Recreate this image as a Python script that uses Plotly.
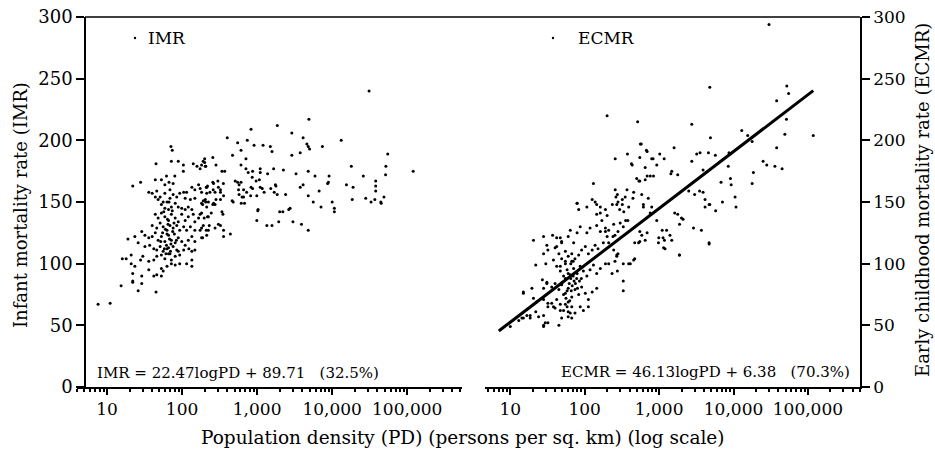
import math
import plotly.graph_objects as go

W, H = 935, 458

# ---------------- data ----------------
imr_pd = [
    31000, 4900, 1860, 830, 400, 2900, 13200, 4100, 4600, 4800, 5000, 7400, 550, 740, 910, 1200, 1500, 1580, 55000, 470,
    710, 2900, 3750, 120000, 18000, 52000, 51500, 26000, 38000, 38000, 38000, 49000, 44500, 37000, 18500, 15500, 19000, 8900, 9100, 5900,
    4800, 6700, 4800, 5600, 7100, 10000, 10700, 10700, 4100, 3750, 3300, 2400, 2240, 1660, 1780, 1520, 1690, 2000, 2200, 2640,
    1020, 1100, 1100, 1380, 28000, 33000, 45000, 3000, 3900, 2750, 8700, 4800, 610, 257, 200, 200, 207, 283, 174, 340,
    370, 610, 710, 760, 870, 1070, 860, 970, 1750, 1850, 990, 1350, 1580, 1940, 1030,
    510, 550, 575, 610, 565, 660, 725, 575, 630, 660, 615, 680, 830, 870, 1100, 1170, 1240, 990, 820, 465,
    480, 357, 325, 305, 325, 257, 300, 355, 210, 218, 213, 260, 275, 174, 192, 206, 188, 213, 257, 275,
    283, 325, 340, 350, 174, 197, 218, 192, 230, 275, 305, 325, 174, 210, 357, 440, 357, 188,
    45, 72, 89, 104, 104, 141, 158, 182, 191, 204, 44, 53, 62, 80, 59, 67, 76, 22, 28,
    36, 40, 46, 51, 59, 69, 44, 48, 56, 63, 69, 76, 85, 93, 105, 115,
    135, 148, 166, 182, 213, 235, 263, 110, 129, 148, 182, 204, 224, 263,
    53, 59, 66, 72, 81, 89, 99, 110, 121, 135,
    44, 48, 53, 59, 66, 72, 81, 89, 99, 110, 121, 141, 148, 166, 182, 224, 245,
    40, 46, 51, 56, 63, 69, 76, 85, 93, 105, 115, 129, 148, 182, 224,
    29, 32, 36, 40, 44, 48, 53, 59, 66, 72, 81, 89, 99, 110, 121, 135, 148, 182, 213,
    19, 23.5, 26, 32, 37, 42, 46, 51, 56, 63, 69, 76, 85, 93, 105, 123, 135, 148,
    16, 18, 21, 21, 23.5, 28, 30, 36, 42, 46, 53, 59, 66, 72, 81, 89, 93, 115, 135, 135,
    22, 29, 36, 42, 46, 53, 56, 53, 63, 72, 81,
    15.4, 26, 45, 22, 29, 22, 7.6, 11, 71, 74,
    55, 60, 62, 65, 68, 70, 75, 58, 64, 78, 52, 61, 57, 67, 74, 63, 71, 79, 84, 66,
]
imr_val = [
    240, 217, 212, 209, 202, 206, 200, 202, 197, 195, 193, 195, 198, 200, 196, 196, 195, 191, 189, 188,
    185, 188, 190, 175, 179, 179, 172, 171, 167, 163, 159, 154, 150, 152, 152, 164, 162, 166, 171, 171,
    175, 159, 155, 150, 146, 150, 145, 142, 164, 162, 173, 156, 176, 177, 163, 161, 158, 142, 142, 144,
    143, 177, 174, 173, 153, 150, 149, 134, 132, 145, 165, 127, 192, 186, 185, 182, 179, 180, 177, 175,
    175, 180, 177, 174, 175, 168, 170, 167, 164, 156, 135, 131, 131, 134, 144,
    167, 166, 164, 166, 160, 160, 158, 156, 154, 154, 149, 149, 162, 161, 162, 161, 158, 155, 155, 151,
    150, 155, 160, 162, 158, 166, 167, 165, 162, 163, 157, 160, 158, 161, 151, 150, 148, 146, 148, 148,
    152, 152, 142, 140, 140, 137, 138, 131, 131, 129, 132, 131, 127, 127, 127, 124, 122, 121,
    181, 183, 183, 180, 175, 181, 179, 180, 183, 179, 168, 168, 171, 171, 164, 166, 165, 163, 166,
    158, 157, 159, 154, 157, 160, 154, 152, 150, 150, 153, 156, 154, 157, 158, 158,
    162, 160, 164, 158, 162, 158, 165, 153, 152, 153, 149, 152, 150, 149,
    148, 145, 144, 146, 149, 146, 145, 144, 146, 144,
    140, 137, 141, 138, 135, 140, 137, 134, 140, 135, 138, 140, 134, 137, 141, 138, 141,
    131, 129, 133, 130, 127, 131, 129, 131, 127, 130, 127, 130, 127, 129, 127,
    126, 123, 121, 122, 125, 119, 122, 118, 123, 119, 117, 121, 118, 115, 119, 122, 118, 121, 123,
    120, 122, 117, 114, 115, 112, 111, 114, 110, 112, 108, 114, 111, 107, 111, 112, 110, 111,
    104, 104, 107, 100, 98, 103, 106, 102, 103, 106, 107, 104, 108, 103, 106, 110, 100, 100, 98, 103,
    92, 90, 95, 90, 91, 96, 94, 90, 98, 100, 99,
    82, 78, 77, 85, 84, 86, 67, 68, 195, 192,
    125, 128, 115, 132, 120, 110, 126, 112, 136, 133, 118, 108, 142, 150, 143, 124, 116, 124, 119, 113,
]

ecmr_pd = [
    30000, 52000, 55000, 4800, 38000, 51500, 200, 515, 2750, 118000, 49000, 12900, 15500, 17800, 4900, 575, 1590, 38000, 4600, 5700,
    2750, 3200, 3550, 8700, 375, 257, 425, 550, 690, 830, 930, 1020, 1170, 650, 1480, 1780, 8500, 3900, 25000, 28000,
    36000, 45000, 18500, 17800, 500, 550, 650, 760, 131, 9100, 6800, 9300, 2500, 3000, 3500, 3900, 257, 263, 370, 455,
    350, 79, 83, 107, 126, 145, 162, 190, 200, 235, 280, 320, 335, 390, 615, 760, 1620, 2000, 4150, 4700,
    5750, 7100, 10500, 10800,
    560, 675, 435, 795, 1440, 535, 840, 690, 275, 320, 270, 295, 445, 585, 615, 715, 795, 4800, 4150, 1780,
    1880, 2100, 2900, 3700, 4700, 930, 1100, 1260, 1480, 1130, 980, 1150, 1870, 550, 585, 550, 470, 355, 380, 300,
    330, 245, 280, 255, 210, 190, 240, 210, 245, 280, 270, 255, 330, 410, 470, 275, 330, 330,
    20.5, 28, 37, 47, 31, 40, 49, 55, 22, 30, 38, 47, 55, 67, 15, 20.5, 22.5, 28, 31, 27,
    13, 15, 18.5, 22, 24, 28, 29.5, 10, 32, 36, 40, 47, 52, 58, 64, 67, 60, 28, 390, 455,
    530, 650, 690, 990, 1180, 1400, 1880, 1200, 4700, 210, 233, 270,
    28, 32, 42, 49, 42, 60, 71,
    64, 79, 87, 107, 118, 145, 162, 190, 170, 145, 162, 138, 79,
    45, 49, 55, 60, 67, 74, 83, 91, 102, 112, 126, 138, 151, 178, 200,
    42, 47, 52, 58, 64, 71, 79, 87, 96, 107, 118, 131, 145, 162, 190,
    31, 36, 40, 45, 49, 55, 60, 67, 74, 83, 91, 102, 112, 126, 145,
    28, 32, 38, 42, 47, 55, 60, 67, 74, 87, 96, 112,
    49, 60, 45, 28, 32, 15, 19.5, 14.3, 16.7, 18.5,
    50, 55, 58, 62, 65, 68, 70, 72, 75, 78, 56, 63, 66, 52, 80, 85, 90, 60, 65, 70,
]
ecmr_val = [
    294, 244, 238, 243, 232, 217, 220, 215, 213, 204, 205, 208, 204, 199, 202, 197, 194, 194, 190, 188,
    183, 189, 190, 190, 189, 185, 181, 186, 191, 185, 180, 189, 185, 178, 175, 172, 179, 176, 183, 180,
    179, 177, 174, 165, 169, 167, 168, 171, 165, 169, 166, 164, 159, 156, 159, 158, 160, 154, 160, 158,
    154, 149, 144, 146, 152, 148, 141, 144, 139, 148, 150, 148, 142, 146, 146, 141, 141, 137, 152, 148,
    143, 150, 154, 146,
    197, 192, 180, 185, 173, 167, 171, 171, 156, 152, 148, 144, 153, 156, 148, 153, 146, 148, 146, 140,
    132, 136, 129, 127, 117, 135, 127, 127, 119, 121, 117, 113, 107, 126, 123, 118, 117, 135, 135, 133,
    130, 132, 126, 123, 127, 126, 122, 117, 111, 108, 106, 102, 100, 100, 104, 94, 86, 78,
    119, 122, 123, 121, 115, 113, 117, 110, 99, 100, 103, 98, 100, 102, 76, 72, 69, 80, 84, 87,
    54, 56, 58, 61, 57, 50, 52, 49, 65, 68, 64, 67, 62, 65, 60, 56, 69, 58, 100, 103,
    117, 119, 125, 121, 119, 123, 107, 112, 116, 100, 92, 107,
    108, 111, 114, 118, 121, 122, 117,
    127, 125, 130, 125, 129, 131, 126, 129, 135, 140, 146, 150, 149,
    108, 104, 102, 106, 108, 104, 107, 111, 114, 108, 111, 115, 112, 117, 122,
    98, 94, 90, 95, 91, 96, 92, 98, 94, 90, 95, 99, 92, 96, 100,
    85, 81, 84, 79, 83, 76, 80, 73, 79, 75, 81, 76, 71, 77, 80,
    71, 68, 65, 71, 62, 67, 61, 65, 60, 65, 62, 65,
    56, 57, 50, 49, 52, 77, 80, 56, 58, 56,
    85, 88, 78, 84, 88, 82, 90, 86, 84, 88, 72, 70, 78, 75, 80, 86, 88, 92, 100, 102,
]

# fitted regression (as printed on the chart)
ecmr_slope, ecmr_intercept = 46.13, 6.38
ecmr_fit_pd = [7, 118000]

x_tick_vals = [10, 100, 1000, 10000, 100000]
x_tick_text = ["10", "100", "1,000", "10,000", "100,000"]
y_tick_vals = [0, 50, 100, 150, 200, 250, 300]

imr_equation = "IMR = 22.47logPD + 89.71   (32.5%)"
ecmr_equation = "ECMR = 46.13logPD + 6.38   (70.3%)"

# ---------------- figure ----------------
FONT = "DejaVu Serif"
def px(x):
    return x / W
def py(y):
    return 1 - y / H

ydom = [py(387), py(17)]
minor_vals = [m * 10 ** e for e in range(0, 6) for m in range(2, 10)]

fit_y = [ecmr_slope * math.log10(p) + ecmr_intercept for p in ecmr_fit_pd]

fig = go.Figure()
fig.add_trace(go.Scatter(x=imr_pd, y=imr_val, mode="markers", xaxis="x", yaxis="y",
                         marker=dict(size=3, color="black"), showlegend=False))
fig.add_trace(go.Scatter(x=ecmr_pd, y=ecmr_val, mode="markers", xaxis="x2", yaxis="y2",
                         marker=dict(size=3, color="black"), showlegend=False))
fig.add_trace(go.Scatter(x=ecmr_fit_pd, y=fit_y, mode="lines", xaxis="x2", yaxis="y2",
                         line=dict(color="black", width=3), showlegend=False))

xcommon = dict(type="log", tickvals=x_tick_vals, ticktext=x_tick_text, ticks="outside",
               ticklen=6, tickwidth=1.5, tickcolor="black", showline=True, linecolor="black",
               linewidth=1.5, showgrid=False, zeroline=False, automargin=False,
               tickfont=dict(family=FONT, size=17, color="black"),
               minor=dict(tickvals=minor_vals, ticks="outside", ticklen=3, tickcolor="black", showgrid=False))
ycommon = dict(range=[0, 300], tickvals=y_tick_vals, ticks="outside", ticklen=8, tickwidth=1.5,
               tickcolor="black", showline=True, linecolor="black", linewidth=1.5, showgrid=False,
               zeroline=False, domain=ydom, automargin=False)

fig.update_layout(
    width=W, height=H, margin=dict(l=0, r=0, t=0, b=0, autoexpand=False),
    paper_bgcolor="white", plot_bgcolor="white",
    font=dict(family=FONT, color="black"),
    xaxis=dict(domain=[px(77), px(462)], range=[0.60, 5.73], anchor="y", **xcommon),
    xaxis2=dict(domain=[px(485), px(860)], range=[0.66, 5.70], anchor="y2", **xcommon),
    yaxis=dict(anchor="free", position=px(85), side="left",
               tickfont=dict(family=FONT, size=18, color="black"), **ycommon),
    yaxis2=dict(anchor="x2", side="right",
                tickfont=dict(family=FONT, size=17, color="black"), **ycommon),
)

fig.add_shape(type="line", xref="paper", yref="paper", x0=px(85), x1=px(860), y0=py(17), y1=py(17),
              line=dict(color="black", width=1.5))

# legend-like labels
for dx, tx, label in [(135, 146, "IMR"), (553, 576, "ECMR")]:
    fig.add_shape(type="circle", xref="paper", yref="paper", x0=px(dx - 1.2), x1=px(dx + 1.2),
                  y0=py(38 + 1.2), y1=py(38 - 1.2), fillcolor="black", line=dict(width=0))
    fig.add_annotation(text=label, xref="paper", yref="paper", x=px(tx), y=py(38), xanchor="left",
                       yanchor="middle", showarrow=False, font=dict(family=FONT, size=17))

fig.add_annotation(text=imr_equation, xref="paper", yref="paper", x=px(95), y=py(373), xanchor="left",
                   yanchor="middle", showarrow=False, font=dict(family=FONT, size=15))
fig.add_annotation(text=ecmr_equation, xref="paper", yref="paper", x=px(852), y=py(372), xanchor="right",
                   yanchor="middle", showarrow=False, font=dict(family=FONT, size=15))

fig.add_annotation(text="Infant mortality rate (IMR)", xref="paper", yref="paper", x=px(20), y=py(205),
                   textangle=-90, showarrow=False, xanchor="center", yanchor="middle",
                   font=dict(family=FONT, size=18))
fig.add_annotation(text="Early childhood mortality rate (ECMR)", xref="paper", yref="paper", x=px(922), y=py(200),
                   textangle=-90, showarrow=False, xanchor="center", yanchor="middle",
                   font=dict(family=FONT, size=18))
fig.add_annotation(text="Population density (PD) (persons per sq. km) (log scale)", xref="paper", yref="paper",
                   x=px(463), y=py(437), showarrow=False, xanchor="center", yanchor="middle",
                   font=dict(family=FONT, size=18.5))

fig.write_html("out.html", config={"displayModeBar": False},
               post_script="document.body.style.margin='0';document.body.style.overflow='hidden';")
